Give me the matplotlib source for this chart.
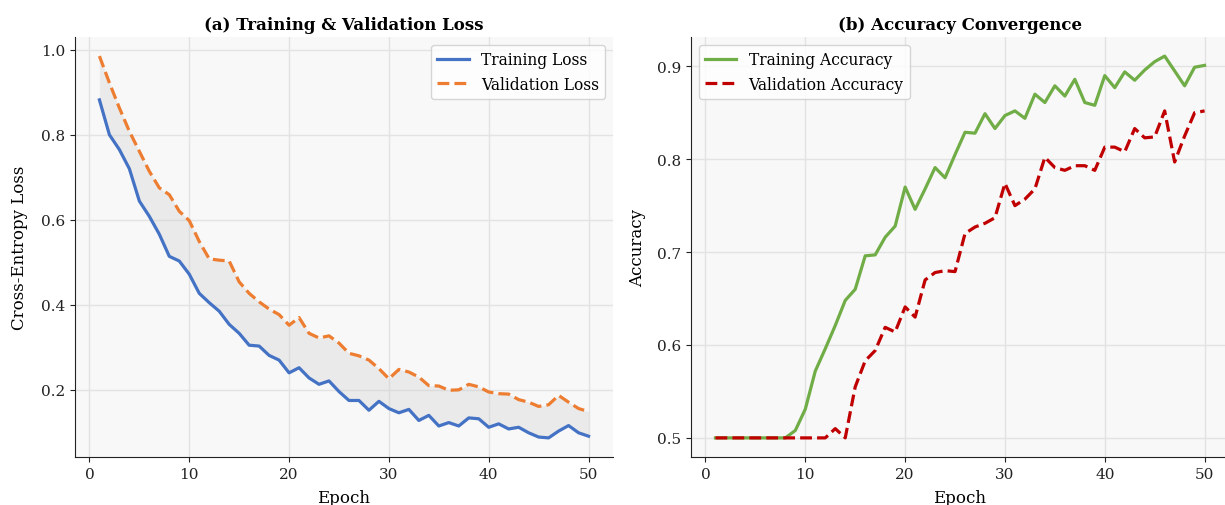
import matplotlib
matplotlib.use("Agg")
import matplotlib.pyplot as plt
import numpy as np

plt.rcParams['font.family'] = ['DejaVu Serif']

epochs = np.arange(1, 51)

train_loss = [0.882, 0.800, 0.765, 0.720, 0.644, 0.608, 0.566, 0.514, 0.503, 0.472,
              0.427, 0.405, 0.385, 0.354, 0.333, 0.305, 0.303, 0.281, 0.270, 0.240,
              0.252, 0.228, 0.213, 0.221, 0.196, 0.175, 0.175, 0.152, 0.173, 0.156,
              0.146, 0.154, 0.128, 0.140, 0.115, 0.123, 0.115, 0.134, 0.132, 0.112,
              0.120, 0.108, 0.112, 0.099, 0.089, 0.087, 0.103, 0.116, 0.099, 0.091]

val_loss = [0.985, 0.922, 0.863, 0.808, 0.761, 0.714, 0.675, 0.659, 0.620, 0.598,
            0.549, 0.508, 0.505, 0.503, 0.454, 0.427, 0.407, 0.390, 0.377, 0.352,
            0.370, 0.333, 0.322, 0.327, 0.310, 0.286, 0.280, 0.270, 0.250, 0.226,
            0.248, 0.242, 0.230, 0.210, 0.209, 0.199, 0.200, 0.213, 0.207, 0.195,
            0.191, 0.190, 0.177, 0.171, 0.161, 0.165, 0.187, 0.171, 0.156, 0.149]

train_acc = [0.500, 0.500, 0.500, 0.500, 0.500, 0.500, 0.500, 0.500, 0.508, 0.531,
             0.572, 0.596, 0.621, 0.648, 0.660, 0.696, 0.697, 0.716, 0.728, 0.770,
             0.746, 0.768, 0.791, 0.780, 0.805, 0.829, 0.828, 0.849, 0.833, 0.847,
             0.852, 0.844, 0.870, 0.861, 0.879, 0.868, 0.886, 0.861, 0.858, 0.890,
             0.877, 0.894, 0.885, 0.896, 0.905, 0.911, 0.895, 0.879, 0.899, 0.901]

val_acc = [0.500, 0.500, 0.500, 0.500, 0.500, 0.500, 0.500, 0.500, 0.500, 0.500,
           0.500, 0.500, 0.510, 0.500, 0.555, 0.583, 0.594, 0.619, 0.614, 0.641,
           0.630, 0.670, 0.678, 0.680, 0.679, 0.720, 0.727, 0.731, 0.737, 0.774,
           0.750, 0.757, 0.768, 0.802, 0.791, 0.788, 0.793, 0.793, 0.788, 0.813,
           0.813, 0.808, 0.833, 0.823, 0.824, 0.852, 0.797, 0.825, 0.850, 0.852]

fig = plt.figure(figsize=(12.25, 5.06), dpi=100)
ax1 = fig.add_axes([0.0612, 0.0949, 0.4392, 0.830])
ax2 = fig.add_axes([0.5641, 0.0949, 0.4392, 0.830])

for ax in (ax1, ax2):
    ax.set_facecolor('#f8f8f8')
    ax.grid(True, color='#e3e3e3', linewidth=1.0)
    ax.set_axisbelow(True)
    ax.spines['top'].set_visible(False)
    ax.spines['right'].set_visible(False)
    ax.spines['left'].set_color('#222222')
    ax.spines['bottom'].set_color('#222222')
    ax.tick_params(labelsize=11, colors='#222222')

# (a) loss
ax1.fill_between(epochs, train_loss, val_loss, color='#d0d0d0', alpha=0.35, linewidth=0)
ax1.plot(epochs, train_loss, color='#4472C4', linewidth=2.3, label='Training Loss')
ax1.plot(epochs, val_loss, color='#ED7D31', linewidth=2.3, linestyle='--', label='Validation Loss')
ax1.set_title('(a) Training & Validation Loss', fontsize=12, fontweight='bold')
ax1.set_xlabel('Epoch', fontsize=12, labelpad=6)
ax1.set_ylabel('Cross-Entropy Loss', fontsize=12, labelpad=9)
ax1.legend(loc='upper right', fontsize=11.2)

# (b) accuracy
ax2.plot(epochs, train_acc, color='#70AD47', linewidth=2.3, label='Training Accuracy')
ax2.plot(epochs, val_acc, color='#C00000', linewidth=2.3, linestyle='--', label='Validation Accuracy')
ax2.set_title('(b) Accuracy Convergence', fontsize=12, fontweight='bold')
ax2.set_xlabel('Epoch', fontsize=12, labelpad=6)
ax2.set_ylabel('Accuracy', fontsize=12, labelpad=8)
ax2.set_yticks([0.5, 0.6, 0.7, 0.8, 0.9])
ax2.legend(loc='upper left', fontsize=11.2)

fig.savefig('out.png', dpi=100)
